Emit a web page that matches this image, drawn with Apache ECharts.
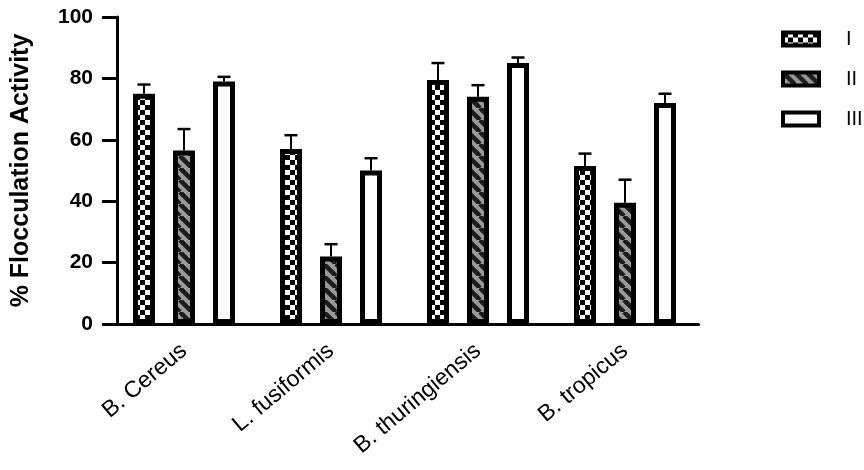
<!DOCTYPE html>
<html style="height: 100%">
<head>
    <meta charset="utf-8">
    <title>Flocculation Activity</title>
    <script type="text/javascript" src="https://cdn.jsdelivr.net/npm/echarts@6/dist/echarts.min.js"></script>
</head>
<body style="height: 100%; margin: 0;">
<div id="container" style="width: 864px;height: 470px"></div>
<script type="text/javascript">
    // data
    var categories = ['B. Cereus', 'L. fusiformis', 'B. thuringiensis', 'B. tropicus'];
    var seriesNames = ['I', 'II', 'III'];
    var valuesI = [75, 57, 79.5, 51.5];
    var valuesII = [56.5, 22, 74, 39.5];
    var valuesIII = [79, 50, 85, 72];
    var errI = [3, 4.5, 5.5, 4];
    var errII = [7, 4, 3.8, 7.5];
    var errIII = [1.5, 4, 1.8, 3];
    var yTicks = [0, 20, 40, 60, 80, 100];

    var FONT = 'Arial, "Liberation Sans", sans-serif';
    var barW = 22, barSpace = 18;

    //棋盘格填充
    function checkerPattern() {
        var c = document.createElement('canvas');
        c.width = 10; c.height = 10;
        var ctx = c.getContext('2d');
        ctx.fillStyle = '#fff';
        ctx.fillRect(0, 0, 10, 10);
        ctx.fillStyle = '#000';
        ctx.fillRect(0, 0, 5, 5);
        ctx.fillRect(5, 5, 5, 5);
        return c;
    }
    //斜线填充
    function stripePattern() {
        var c = document.createElement('canvas');
        c.width = 12; c.height = 12;
        var ctx = c.getContext('2d');
        ctx.fillStyle = '#9a9a9a';
        ctx.fillRect(0, 0, 12, 12);
        ctx.strokeStyle = '#1c1c1c';
        ctx.lineWidth = 4.5;
        for (var k = -1; k <= 1; k++) {
            ctx.beginPath();
            ctx.moveTo(k * 12, 0);
            ctx.lineTo(k * 12 + 12, 12);
            ctx.stroke();
        }
        return c;
    }

    var fills = [
        {image: checkerPattern(), repeat: 'repeat'},
        {image: stripePattern(), repeat: 'repeat'},
        '#ffffff'
    ];
    var values = [valuesI, valuesII, valuesIII];
    var errs = [errI, errII, errIII];

    var series = [];
    for (var s = 0; s < 3; s++) {
        series.push({
            name: seriesNames[s],
            type: 'bar',
            barWidth: barW,
            barGap: (barSpace / barW * 100) + '%',
            data: values[s],
            itemStyle: {color: fills[s], borderColor: '#000', borderWidth: 5},
            z: 2
        });
    }
    for (var s2 = 0; s2 < 3; s2++) {
        (function (si) {
            var d = [];
            for (var i = 0; i < categories.length; i++) {
                d.push([i, values[si][i], errs[si][i]]);
            }
            series.push({
                name: 'err' + si,
                type: 'custom',
                z: 3,
                encode: {x: 0, y: 1},
                data: d,
                renderItem: function (params, api) {
                    var base = api.coord([api.value(0), api.value(1)]);
                    var top = api.coord([api.value(0), api.value(1) + api.value(2)]);
                    var x = base[0] + (si - 1) * (barW + barSpace);
                    return {
                        type: 'group',
                        children: [
                            {type: 'line', shape: {x1: x, y1: base[1], x2: x, y2: top[1]},
                                style: {stroke: '#000', lineWidth: 2}},
                            {type: 'line', shape: {x1: x - 6.5, y1: top[1], x2: x + 6.5, y2: top[1]},
                                style: {stroke: '#000', lineWidth: 2.5}}
                        ]
                    };
                }
            });
        })(s2);
    }

    var myChart = echarts.init(document.getElementById('container'));
    var option = {
        animation: false,
        backgroundColor: '#fff',
        grid: {left: 110.5, top: 17, width: 588, bottom: 146},
        legend: {
            data: seriesNames,
            orient: 'vertical',
            left: 776,
            top: 24,
            itemWidth: 36,
            itemHeight: 13,
            itemGap: 20,
            icon: 'rect',
            itemStyle: {borderColor: '#000', borderWidth: 4},
            textStyle: {fontFamily: FONT, fontSize: 20, lineHeight: 18, color: '#000', padding: [0, 0, 0, 22]}
        },
        xAxis: {
            type: 'category',
            data: categories,
            axisLine: {lineStyle: {color: '#000', width: 3}},
            axisTick: {alignWithLabel: true, length: 10, lineStyle: {color: '#000', width: 3}},
            axisLabel: {rotate: 40, fontFamily: FONT, fontSize: 23, color: '#000', margin: 24}
        },
        yAxis: {
            type: 'value',
            min: 0,
            max: 100,
            interval: 20,
            offset: -6.5,
            name: '% Flocculation Activity',
            nameLocation: 'middle',
            nameGap: 83,
            nameTextStyle: {fontFamily: FONT, fontSize: 25, fontWeight: 'bold', color: '#000'},
            splitLine: {show: false},
            axisLine: {show: true, lineStyle: {color: '#000', width: 3}},
            axisTick: {show: true, length: 15, lineStyle: {color: '#000', width: 3}},
            axisLabel: {
                fontFamily: FONT, fontSize: 21, fontWeight: 'bold', color: '#000', margin: 24,
                formatter: function (v) { return yTicks.indexOf(v) >= 0 ? String(v) : ''; }
            }
        },
        series: series
    };
    myChart.setOption(option);
</script>
</body>
</html>
